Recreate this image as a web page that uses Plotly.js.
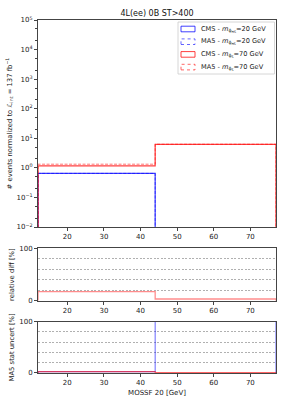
<!DOCTYPE html>
<html><head><meta charset="utf-8">
<script src="https://cdn.plot.ly/plotly-3.0.1.min.js"></script>
<style>html,body{margin:0;padding:0;background:#fff}#chart{width:289px;height:417px}</style>
</head><body><div id="chart"></div>
<script>
// ---- data ----
const binEdges = [12, 44, 77];
const cms20 = [0.65, 0];
const ma520 = [0.65, 0];
const cms70 = [1.17, 6.2];
const ma570 = [1.33, 6.3];
const relDiff20 = [0, null];
const relDiff70 = [17.4, 3.3];
const statUnc20 = [2.5, 150];
const statUnc70 = [2.5, 0.8];
const xTickVals = [20, 30, 40, 50, 60, 70];
const yLogTickVals = [0.01, 0.1, 1, 10, 100, 1000, 10000, 100000];
const yLogTickText = ['10<sup>−2</sup>','10<sup>−1</sup>','10<sup>0</sup>','10<sup>1</sup>','10<sup>2</sup>','10<sup>3</sup>','10<sup>4</sup>','10<sup>5</sup>'];
const titleText = "4L(ee) 0B ST>400";

function stepTrace(vals, base, log){
  const v = vals.map(a => (a === null ? null : (log && a <= 0 ? 1e-6 : a)));
  const x = [binEdges[0], binEdges[0]];
  const y = [base, v[0]];
  for (let i = 1; i < v.length; i++){ x.push(binEdges[i]); y.push(v[i]); }
  x.push(binEdges[binEdges.length-1]); y.push(v[v.length-1]);
  x.push(binEdges[binEdges.length-1]); y.push(base);
  return {x, y};
}
function mk(vals, base, log, color, dash, width, xa, ya){
  const s = stepTrace(vals, base, log);
  return {type:'scatter', mode:'lines', x:s.x, y:s.y, xaxis:xa, yaxis:ya,
    line:{shape:'hv', color:color, dash:dash, width:width}, showlegend:false, hoverinfo:'skip', connectgaps:false};
}
const BLUE = 'rgba(0,0,255,0.75)', BLUE_L = 'rgba(0,0,255,0.55)';
const RED = 'rgba(255,0,0,0.75)', RED_L = 'rgba(255,0,0,0.55)';

const traces = [
  mk(cms20, 1e-4, true, BLUE, 'solid', 1.2, 'x', 'y'),
  mk(ma520, 1e-4, true, BLUE_L, '3px,1.5px', 1.0, 'x', 'y'),
  mk(cms70, 1e-4, true, RED, 'solid', 1.2, 'x', 'y'),
  mk(ma570, 1e-4, true, RED_L, '3px,1.5px', 1.0, 'x', 'y'),
  mk(relDiff70, 0, false, 'rgba(255,0,0,0.45)', 'solid', 1.3, 'x2', 'y2'),
  mk(relDiff20, 0, false, 'rgba(0,0,139,0.9)', 'solid', 1.3, 'x2', 'y2'),
  mk(statUnc20, 0, false, 'rgba(0,0,255,0.55)', 'solid', 1.1, 'x3', 'y3'),
  mk(statUnc70, 0, false, 'rgba(255,0,0,0.6)', 'solid', 1.2, 'x3', 'y3')
];

const F = 'DejaVu Sans, sans-serif';
const LC = '#444';
const TF = {family:F, size:7, color:'#222'};
function xax(anchor){
  return {domain:[0,1], anchor:anchor, range:[12,77], tickvals:xTickVals, ticks:'outside', ticklen:3,
    tickcolor:LC, showline:true, mirror:true, linecolor:LC, linewidth:1, showgrid:false, zeroline:false,
    tickfont:TF};
}
function ratioY(domain, anchor, title){
  return {domain:domain, anchor:anchor, range:[0,100], tickvals:[0,100], ticks:'outside', ticklen:3,
    tickcolor:LC, showline:true, mirror:true, linecolor:LC, linewidth:1, showgrid:false, zeroline:false,
    tickfont:TF,
    minor:{dtick:20, tick0:0, showgrid:true, gridcolor:'#b0b0b0', griddash:'2px,1.5px', gridwidth:0.6, ticks:''},
    title:{text:title, font:{family:F, size:6.8, color:'#222'}, standoff:3}};
}
const L = 38, R = 276, T = 20, B = 373;
const px = v => (v - L) / (R - L);
const py = v => (B - v) / (B - T);
const legItems = [
  {label:'CMS - <i>m</i><sub>ϕ<sub>HS</sub></sub>=20 GeV', color:'rgba(0,0,255,0.75)', dash:'solid'},
  {label:'MA5 - <i>m</i><sub>ϕ<sub>HS</sub></sub>=20 GeV', color:'rgba(0,0,255,0.6)', dash:'dot'},
  {label:'CMS - <i>m</i><sub>ϕ<sub>S</sub></sub>=70 GeV', color:'rgba(255,0,0,0.75)', dash:'solid'},
  {label:'MA5 - <i>m</i><sub>ϕ<sub>S</sub></sub>=70 GeV', color:'rgba(255,0,0,0.6)', dash:'dot'}
];
const shapes = [{type:'rect', xref:'paper', yref:'paper', x0:px(178), x1:px(274.5), y0:py(74), y1:py(22),
  line:{color:'#ccc', width:0.8}, fillcolor:'rgba(255,255,255,0.85)'}];
const annotations = [];
legItems.forEach((it, i) => {
  const cy = 29 + i * 12.7;
  shapes.push({type:'rect', xref:'paper', yref:'paper', x0:px(181), x1:px(195), y0:py(cy+2.8), y1:py(cy-2.8),
    line:{color:it.color, width:1, dash:it.dash}, fillcolor:'rgba(0,0,0,0)'});
  annotations.push({xref:'paper', yref:'paper', x:px(199), y:py(cy), xanchor:'left', yanchor:'middle',
    text:it.label, showarrow:false, font:{family:F, size:6.6, color:'#222'}});
});

const layout = {
  width:289, height:417, paper_bgcolor:'#fff', plot_bgcolor:'#fff',
  margin:{l:L, r:289-R, t:T, b:417-B, pad:0},
  title:{text:titleText, font:{family:F, size:8, color:'#111'}, x:0.5, xref:'paper', xanchor:'center', y:1-13/417, yanchor:'middle'},
  xaxis:xax('y'),
  xaxis2:xax('y2'),
  xaxis3:Object.assign(xax('y3'), {title:{text:'MOSSF 20 [GeV]', font:{family:F, size:7, color:'#222'}, standoff:3}}),
  yaxis:{domain:[0.4136,1], anchor:'x', type:'log', range:[-2,5], tickvals:yLogTickVals, ticktext:yLogTickText,
    ticks:'outside', ticklen:3, tickcolor:LC, showline:true, mirror:true, linecolor:LC, linewidth:1,
    showgrid:false, zeroline:false, tickfont:TF,
    minor:{ticks:'outside', ticklen:1.8, tickcolor:LC, showgrid:false},
    title:{text:'# events normalized to <i>ℒ</i><sub>int</sub> = 137 fb<sup>−1</sup>', font:{family:F, size:6.8, color:'#222'}, standoff:3}},
  yaxis2:ratioY([0.2048,0.3527], 'x2', 'relative diff [%]'),
  yaxis3:ratioY([0,0.1453], 'x3', 'MA5 stat uncert [%]'),
  shapes:shapes, annotations:annotations, showlegend:false
};
Plotly.newPlot('chart', traces, layout, {displayModeBar:false});
</script></body></html>
